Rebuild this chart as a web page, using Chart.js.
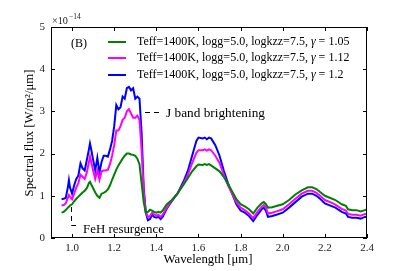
<!DOCTYPE html>
<html><head><meta charset="utf-8">
<script src="https://cdn.jsdelivr.net/npm/chart.js@4"></script>
<style>html,body{margin:0;padding:0;background:#fff}canvas{display:block}</style>
</head><body>
<canvas id="c" width="407" height="271"></canvas>
<script>
const wavelength = [
 0.95,0.96,0.97,0.98,0.985,0.99,1.00,1.01,1.02,1.03,
 1.04,1.05,1.06,1.07,1.08,1.085,1.09,1.10,1.11,1.12,
 1.13,1.14,1.15,1.16,1.17,1.18,1.19,1.20,1.21,1.22,
 1.23,1.24,1.25,1.26,1.27,1.28,1.29,1.30,1.31,1.32,
 1.33,1.34,1.35,1.36,1.37,1.38,1.39,1.40,1.41,1.42,
 1.43,1.45,1.47,1.50,1.53,1.55,1.57,1.59,1.60,1.62,
 1.63,1.64,1.65,1.66,1.68,1.70,1.72,1.74,1.76,1.78,
 1.80,1.82,1.84,1.86,1.88,1.90,1.91,1.92,1.93,1.95,
 1.97,2.00,2.03,2.06,2.09,2.12,2.14,2.16,2.18,2.20,
 2.22,2.25,2.28,2.30,2.31,2.33,2.35,2.37,2.39,2.40];
const fluxGamma105 = [
 0.6,0.62,0.66,0.72,0.74,0.77,0.8,0.87,0.93,0.98,
 1.03,1.08,1.12,1.18,1.3,1.33,1.28,1.18,1.08,1.0,
 0.95,1.05,1.07,1.1,1.15,1.25,1.38,1.5,1.62,1.72,
 1.8,1.88,1.95,2.0,2.0,1.98,1.97,1.95,1.88,1.75,
 1.3,0.85,0.6,0.62,0.67,0.65,0.62,0.6,0.62,0.6,
 0.65,0.8,0.88,1.05,1.27,1.42,1.58,1.7,1.74,1.73,
 1.75,1.73,1.75,1.72,1.65,1.58,1.45,1.28,1.1,0.92,
 0.8,0.75,0.68,0.58,0.72,0.82,0.85,0.8,0.72,0.73,
 0.76,0.8,0.9,1.03,1.13,1.2,1.2,1.16,1.08,1.0,
 0.96,0.9,0.8,0.76,0.68,0.66,0.66,0.63,0.66,0.68];
const fluxGamma112 = [
 0.77,0.78,0.82,0.95,1.02,0.98,0.92,1.05,1.2,1.3,
 1.5,1.45,1.4,1.55,1.8,1.93,1.82,1.6,1.4,1.6,
 1.38,1.58,1.6,1.6,1.62,1.75,1.95,2.2,2.55,2.55,
 2.65,2.8,2.85,3.0,3.05,2.95,2.85,2.85,2.9,2.8,
 2.1,1.1,0.62,0.5,0.52,0.6,0.56,0.53,0.55,0.5,
 0.55,0.72,0.87,1.05,1.3,1.5,1.78,2.02,2.08,2.08,
 2.1,2.07,2.1,2.08,1.95,1.78,1.5,1.25,1.05,0.85,
 0.72,0.66,0.58,0.47,0.62,0.74,0.78,0.72,0.58,0.6,
 0.63,0.68,0.8,0.93,1.05,1.12,1.12,1.07,0.99,0.9,
 0.86,0.79,0.69,0.65,0.57,0.55,0.55,0.53,0.57,0.57];
const fluxGamma120 = [
 0.92,0.93,0.95,1.2,1.37,1.2,1.05,1.25,1.4,1.48,
 1.77,1.65,1.6,1.85,2.1,2.24,2.12,1.85,1.6,1.9,
 1.55,1.8,1.95,1.95,1.93,2.1,2.3,2.65,3.15,3.05,
 3.1,3.35,3.3,3.55,3.58,3.5,3.55,3.3,3.35,3.3,
 2.5,1.2,0.6,0.42,0.45,0.55,0.5,0.48,0.5,0.45,
 0.5,0.7,0.85,1.05,1.35,1.6,1.95,2.3,2.38,2.36,
 2.38,2.34,2.38,2.36,2.2,1.95,1.6,1.3,1.05,0.8,
 0.65,0.6,0.52,0.4,0.55,0.68,0.72,0.65,0.5,0.52,
 0.55,0.6,0.72,0.85,0.98,1.05,1.05,1.0,0.92,0.82,
 0.78,0.72,0.62,0.58,0.5,0.48,0.48,0.46,0.5,0.5];
const xTickValues = [1.0,1.2,1.4,1.6,1.8,2.0,2.2,2.4];
const yTickValues = [0,1,2,3,4,5];
const legendPrefix = 'Teff=1400K, logg=5.0, logkzz=7.5, ';
const gammaLabels = ['1.05','1.12','1.2'];
const seriesColors = ['#008000','#ff00ff','#0000ff'];
const seriesValues = [fluxGamma105, fluxGamma112, fluxGamma120];

const SERIF = '"Liberation Serif","DejaVu Serif",serif';
function pts(arr){ const n=Math.min(arr.length,wavelength.length); const o=[]; for(let i=0;i<n;i++) o.push({x:wavelength[i],y:arr[i]}); return o; }
function fitSize(ctx, text, target, style){
  ctx.font=(style||'')+' 100px '+SERIF; const w=ctx.measureText(text).width;
  return Math.max(6, Math.min(16, 100*target/w));
}

const datasets = seriesValues.map((v,i)=>({
  label: legendPrefix+'γ = '+gammaLabels[i],
  data: pts(v), borderColor: seriesColors[i], backgroundColor: seriesColors[i],
  borderWidth: 2, pointRadius: 0, tension: 0, fill: false
}));

const deco = {
  id:'deco',
  afterDraw(chart){
    const ctx=chart.ctx, a=chart.chartArea, xs=chart.scales.x, ys=chart.scales.y;
    ctx.save();
    ctx.strokeStyle='#000'; ctx.lineWidth=1;
    ctx.strokeRect(Math.round(a.left)+0.5, Math.round(a.top)+0.5, Math.round(a.right-a.left)-1, Math.round(a.bottom-a.top)-1);
    ctx.beginPath();
    xTickValues.forEach(v=>{ const p=Math.round(xs.getPixelForValue(v))+0.5;
      ctx.moveTo(p,a.bottom); ctx.lineTo(p,a.bottom-4); ctx.moveTo(p,a.top); ctx.lineTo(p,a.top+4); });
    yTickValues.forEach(v=>{ const p=Math.round(ys.getPixelForValue(v))+0.5;
      ctx.moveTo(a.left,p); ctx.lineTo(a.left+4,p); ctx.moveTo(a.right,p); ctx.lineTo(a.right-4,p); });
    ctx.stroke();
    // multiplier
    ctx.fillStyle='#222'; ctx.textBaseline='middle'; ctx.textAlign='left';
    let s=fitSize(ctx,'×10',16); ctx.font=s+'px '+SERIF; ctx.fillText('×10',52,21);
    const w10=ctx.measureText('×10').width;
    ctx.font='7.5px '+SERIF; ctx.fillText('−14',52+w10+1,17);
    // (B)
    ctx.fillStyle='#000'; s=fitSize(ctx,'(B)',16); ctx.font=s+'px '+SERIF; ctx.fillText('(B)',71,44);
    // legend
    const full=legendPrefix+'γ = 1.05';
    const ls=fitSize(ctx,full,213);
    const rows=[42,58,75];
    rows.forEach((y,i)=>{
      ctx.strokeStyle=seriesColors[i]; ctx.lineWidth=2; ctx.beginPath(); ctx.moveTo(108,y); ctx.lineTo(126,y); ctx.stroke();
      ctx.fillStyle='#000'; ctx.font=ls+'px '+SERIF; let x=137;
      ctx.fillText(legendPrefix,x,y); x+=ctx.measureText(legendPrefix).width;
      ctx.font='italic '+ls+'px '+SERIF; ctx.fillText('γ',x,y); x+=ctx.measureText('γ').width;
      ctx.font=ls+'px '+SERIF; ctx.fillText(' = '+gammaLabels[i],x,y);
    });
    // annotations
    ctx.strokeStyle='#000'; ctx.lineWidth=1; ctx.setLineDash([5,4]);
    ctx.beginPath(); ctx.moveTo(145,112.5); ctx.lineTo(160,112.5); ctx.stroke();
    ctx.beginPath(); ctx.moveTo(71.5,207); ctx.lineTo(71.5,225.5); ctx.lineTo(78,225.5); ctx.stroke();
    ctx.setLineDash([]);
    ctx.fillStyle='#000';
    s=fitSize(ctx,'J band brightening',99); ctx.font=s+'px '+SERIF; ctx.fillText('J band brightening',166,114);
    s=fitSize(ctx,'FeH resurgence',81); ctx.font=s+'px '+SERIF; ctx.fillText('FeH resurgence',83,230);
    // axis titles
    ctx.textAlign='center';
    s=fitSize(ctx,'Wavelength [μm]',89); ctx.font=s+'px '+SERIF;
    ctx.fillText('Wavelength [μm]', 208, 260);
    s=fitSize(ctx,'Spectral flux [W/m²/μm]',127); ctx.font=s+'px '+SERIF;
    ctx.save(); ctx.translate(30,133); ctx.rotate(-Math.PI/2);
    ctx.fillText('Spectral flux [W/m²/μm]',0,0); ctx.restore();
    ctx.restore();
  }
};

new Chart(document.getElementById('c'),{
  type:'line',
  data:{datasets},
  options:{
    responsive:false, animation:false, devicePixelRatio:1,
    layout:{padding:{top:27,right:40,left:0,bottom:0}},
    plugins:{legend:{display:false},tooltip:{enabled:false}},
    scales:{
      x:{type:'linear',min:0.9,max:2.4,
        afterBuildTicks:s=>{s.ticks=xTickValues.map(v=>({value:v}));},
        afterFit:s=>{s.height=33;},
        grid:{display:false,drawTicks:false}, border:{display:false},
        ticks:{autoSkip:false,maxRotation:0,padding:4,color:'#222',font:{family:SERIF,size:11},callback:v=>Number(v).toFixed(1)}},
      y:{type:'linear',min:0,max:5,
        afterBuildTicks:s=>{s.ticks=yTickValues.map(v=>({value:v}));},
        afterFit:s=>{s.width=51;},
        grid:{display:false,drawTicks:false}, border:{display:false},
        ticks:{padding:6,color:'#222',font:{family:SERIF,size:11},callback:v=>String(v)}}
    }
  },
  plugins:[deco]
});
</script>
</body></html>
